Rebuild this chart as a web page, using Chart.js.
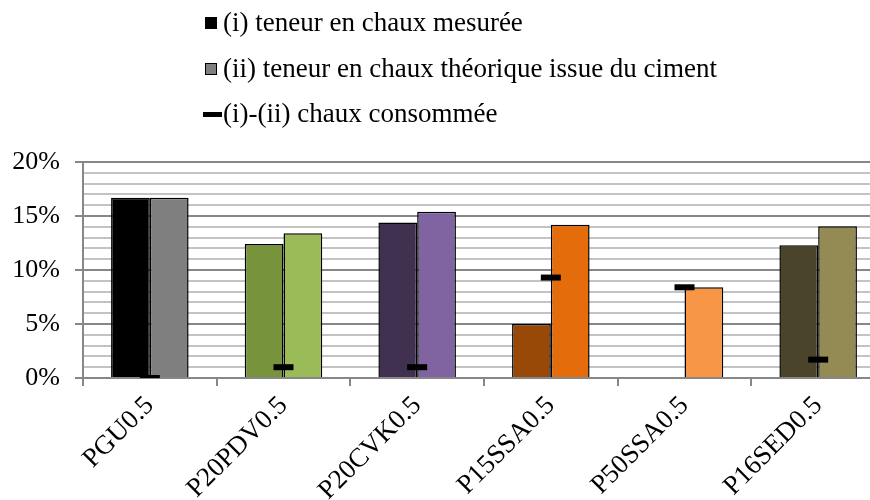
<!DOCTYPE html>
<html>
<head>
<meta charset="utf-8">
<script src="https://cdn.jsdelivr.net/npm/chart.js@4.4.1/dist/chart.umd.min.js"></script>
<style>
  body { margin: 0; background: #fff; overflow: hidden; }
</style>
</head>
<body>
<canvas id="chart" width="901" height="500"></canvas>
<script>
// data (percent)
const categories = ['PGU0.5', 'P20PDV0.5', 'P20CVK0.5', 'P15SSA0.5', 'P50SSA0.5', 'P16SED0.5'];
const measured = [16.7, 12.4, 14.4, 5.0, null, 12.3];
const theoretical = [16.7, 13.4, 15.4, 14.2, 8.4, 14.05];
const consumed = [0, 1.0, 1.0, 9.3, 8.4, 1.7];
const legendLabels = [
    '(i) teneur en chaux mesurée',
    '(ii) teneur en chaux théorique issue du ciment',
    '(i)-(ii) chaux consommée'
];

const measuredColors = ['#000000', '#77933C', '#403151', '#984807', '#984807', '#4A452A'];
const theoreticalColors = ['#7F7F7F', '#9BBB59', '#8064A2', '#E46C0A', '#F79646', '#948A54'];

const FONT = "'Liberation Serif', 'Times New Roman', serif";

// legend drawn by hand, stacked like the original
const stackedLegend = {
    id: 'stackedLegend',
    afterDraw(chart) {
        const ctx = chart.ctx;
        const x0 = 205;
        const rows = [23, 69, 114];
        ctx.save();
        ctx.font = '27px ' + FONT;
        ctx.fillStyle = '#000';
        ctx.textBaseline = 'middle';
        // (i) black square
        ctx.fillRect(x0, rows[0] - 6, 12, 12);
        // (ii) grey square with border
        ctx.fillStyle = '#7F7F7F';
        ctx.fillRect(x0, rows[1] - 6, 12, 12);
        ctx.strokeStyle = '#000';
        ctx.lineWidth = 1;
        ctx.strokeRect(x0 + 0.5, rows[1] - 5.5, 11, 11);
        // (i)-(ii) dash
        ctx.fillStyle = '#000';
        ctx.fillRect(x0 - 2, rows[2] - 2, 19, 5);
        legendLabels.forEach((t, i) => ctx.fillText(t, x0 + 18, rows[i] + 1));
        ctx.restore();
    }
};

new Chart(document.getElementById('chart'), {
    type: 'bar',
    data: {
        labels: categories,
        datasets: [
            {
                type: 'line',
                label: legendLabels[2],
                data: consumed,
                showLine: false,
                pointStyle: 'line',
                pointRadius: 10,
                pointBorderWidth: 6,
                borderColor: '#000',
                backgroundColor: '#000',
                order: 0
            },
            {
                label: legendLabels[0],
                data: measured,
                backgroundColor: measuredColors,
                borderColor: '#000',
                borderWidth: 1.5,
                order: 1
            },
            {
                label: legendLabels[1],
                data: theoretical,
                backgroundColor: theoreticalColors,
                borderColor: '#000',
                borderWidth: 1.5,
                order: 1
            }
        ]
    },
    options: {
        responsive: false,
        animation: false,
        categoryPercentage: 0.58,
        barPercentage: 1.0,
        layout: { padding: { top: 162, left: 0, right: 0, bottom: 0 } },
        plugins: {
            legend: { display: false },
            tooltip: { enabled: false }
        },
        scales: {
            x: {
                grid: {
                    offset: true,
                    drawOnChartArea: false,
                    tickLength: 8,
                    color: '#878787',
                    lineWidth: 2
                },
                border: { color: '#878787', width: 2 },
                ticks: {
                    minRotation: 45,
                    maxRotation: 45,
                    padding: 4,
                    color: '#000',
                    font: { family: FONT, size: 27 }
                },
                afterFit(scale) { scale.height = 122; }
            },
            y: {
                min: 0,
                max: 20,
                border: { color: '#878787', width: 2 },
                grid: {
                    color: c => (c.tick.value % 5 === 0 ? '#878787' : '#C3C3C3'),
                    tickColor: c => (c.tick.value % 5 === 0 ? '#878787' : 'rgba(0,0,0,0)'),
                    lineWidth: 2,
                    tickLength: 8
                },
                ticks: {
                    stepSize: 1,
                    autoSkip: false,
                    padding: 15,
                    color: '#000',
                    font: { family: FONT, size: 26 },
                    callback: v => (v % 5 === 0 ? v + '%' : '')
                },
                afterFit(scale) { scale.width = 83; }
            }
        }
    },
    plugins: [stackedLegend]
});
</script>
</body>
</html>
